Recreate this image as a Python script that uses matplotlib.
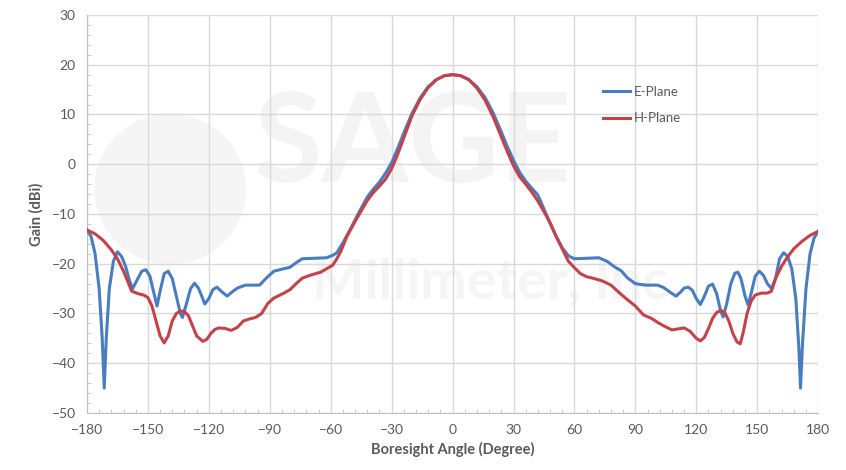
import matplotlib.pyplot as plt
from matplotlib.patches import Ellipse
from matplotlib.ticker import MultipleLocator

# E-plane gain (dBi) vs boresight angle (deg)
e_angle = [-180, -178, -176, -174, -172.5, -171.5, -170.5, -169, -167, -165,
           -163, -161, -159, -157.5, -155, -153, -151, -149, -147, -145.5,
           -144, -142, -140, -138, -136, -134, -133, -131, -129, -127,
           -125, -123, -122, -120, -118, -116, -114, -111, -108, -106,
           -102, -95, -92, -88, -84, -80, -77, -74, -68, -62,
           -59, -57, -54, -50, -46, -42, -39, -36, -33, -30,
           -27, -24, -20, -16, -12, -8, -4, 0,
           4, 8, 12, 16, 20, 24, 27, 30, 33, 36,
           39, 42, 45, 48, 51, 54, 57, 60, 66, 72,
           76, 80, 83, 86, 90, 95, 101, 104, 107, 110,
           112, 114, 116, 118, 120, 122, 124, 126, 128, 130,
           132, 133.2, 135, 137, 139, 140.5, 142, 144, 145.5, 147,
           149, 151, 153, 155, 157, 159, 161, 163, 165, 167,
           169, 170.5, 171.3, 172.3, 174, 176, 178, 180]
e_gain = [-13.2, -14.5, -18, -25, -35, -45, -35, -25, -19.5, -17.6,
          -18.5, -20.5, -23.5, -25, -23, -21.5, -21.2, -22.5, -26, -28.5,
          -25.5, -22, -21.5, -23, -26.5, -30, -30.8, -28, -25, -23.9,
          -25, -27, -28.1, -27, -25.2, -24.7, -25.5, -26.5, -25.5, -24.9,
          -24.3, -24.3, -23, -21.5, -21.1, -20.7, -19.8, -19, -18.9, -18.8,
          -18.3, -17.8, -15.8, -12.8, -9.6, -6.6, -5, -3.6, -1.8, 0.3,
          3.2, 6.3, 10.2, 13.3, 15.6, 17, 17.8, 18,
          17.8, 17, 15.6, 13.4, 10.3, 6.5, 3.5, 0.8, -1.6, -3.4,
          -4.8, -6.2, -9, -11.8, -14.5, -16.8, -18.4, -19, -18.9, -18.8,
          -19.5, -20.7, -21.4, -22.8, -24, -24.3, -24.3, -24.8, -25.7, -26.5,
          -25.8, -24.9, -24.7, -25.3, -27, -28.2, -26.5, -24.5, -24.1, -26,
          -29.5, -30.7, -28, -24, -21.9, -21.7, -23, -26.5, -28.3, -26,
          -22.5, -21.5, -22.3, -24, -25, -23, -19, -17.8, -18.5, -21,
          -27, -37, -45, -36, -25, -18, -14.8, -13.5]

# H-plane gain (dBi) vs boresight angle (deg)
h_angle = [-180, -176, -172, -168, -165, -162, -160, -158, -155, -152,
           -150, -148, -146, -144, -142, -140, -138, -136, -134, -132,
           -130, -128, -126, -123, -121, -119, -117, -115, -112, -109,
           -106, -103, -100, -97, -94, -91, -88, -86, -83, -80,
           -77, -74, -70, -65, -62, -59, -57, -55, -52, -48,
           -45, -42, -39, -36, -33, -30, -27, -24, -20, -16,
           -12, -8, -4, 0,
           4, 8, 12, 16, 20, 24, 27, 30, 33, 36,
           39, 42, 45, 48, 51, 54, 57, 60, 63, 66,
           70, 74, 78, 82, 86, 90, 94, 98, 101, 104,
           108, 111, 114, 117, 120, 122, 124, 126, 128, 130,
           132, 134, 136, 138, 140, 141.6, 143, 145, 147, 149,
           152, 155, 157, 159, 162, 165, 168, 172, 176, 180]
h_gain = [-13.2, -14, -15.3, -17.2, -19, -21.5, -23.5, -25.5, -26, -26.3,
          -26.8, -28.5, -31.5, -34.5, -35.9, -34.5, -31.5, -30, -29.5, -29.6,
          -30.5, -32.5, -34.5, -35.6, -35.2, -34, -33.2, -32.9, -33, -33.4,
          -32.8, -31.5, -31.1, -30.8, -30, -28, -26.9, -26.5, -25.9, -25.2,
          -24, -22.9, -22.3, -21.7, -21, -20.3, -19, -17.5, -14.5, -11.5,
          -9.4, -7.3, -5.7, -4.4, -3, -0.9, 2, 5.3, 9.7, 13,
          15.4, 17, 17.8, 18,
          17.8, 17, 15.3, 12.9, 9.5, 5.5, 2.5, -0.3, -2.5, -4,
          -5.6, -7.4, -9.5, -11.8, -14.5, -17, -19.5, -20.8, -22, -22.6,
          -23, -23.5, -24.3, -25.8, -27.2, -28.5, -30.3, -31, -31.8, -32.5,
          -33.3, -33.1, -32.9, -33.6, -35, -35.5, -34.8, -33, -31, -29.8,
          -29.4, -29.8, -31.5, -34, -35.7, -36.1, -34, -30, -27.5, -26.3,
          -25.9, -25.9, -25.5, -23, -20.5, -18.6, -17, -15.5, -14.3, -13.5]

x_ticks = list(range(-180, 181, 30))
y_ticks = list(range(-50, 31, 10))

plt.rcParams['font.family'] = ['Lato', 'DejaVu Sans']

fig = plt.figure(figsize=(8.46, 4.70), dpi=100)
ax = fig.add_axes([0.1028, 0.1213, 0.8643, 0.8468])

# faint company watermark behind the data
ax.text(0.445, 0.67, 'SAGE', transform=ax.transAxes, ha='center', va='center',
        fontsize=90, fontweight='bold', color='#f4f4f4', zorder=0)
ax.text(0.56, 0.33, 'Millimeter, Inc.', transform=ax.transAxes, ha='center',
        va='center', fontsize=40, fontweight='bold', color='#f5f5f5', zorder=0)
ax.add_patch(Ellipse((-139, -5), 74, 30, color='#f5f5f5', zorder=0))

ax.plot(e_angle, e_gain, color='#4a7dc0', lw=2.2, label='E-Plane', zorder=3)
ax.plot(h_angle, h_gain, color='#c4424a', lw=2.2, label='H-Plane', zorder=3)

ax.set_xlim(-180, 180)
ax.set_ylim(-50, 30)
ax.set_xticks(x_ticks)
ax.set_yticks(y_ticks)
ax.xaxis.set_minor_locator(MultipleLocator(6))
ax.yaxis.set_minor_locator(MultipleLocator(2))
ax.tick_params(which='major', length=0, labelsize=10, colors='#595959', pad=8)
ax.tick_params(which='minor', direction='in', length=3, color='#bfbfbf')
ax.grid(True, which='major', color='#d9d9d9', lw=1)
ax.set_axisbelow(True)

for side in ['top', 'right']:
    ax.spines[side].set_visible(False)
for side in ['left', 'bottom']:
    ax.spines[side].set_color('#bfbfbf')

ax.set_xlabel('Boresight Angle (Degree)', fontsize=10.5, fontweight='bold',
              color='#595959', labelpad=4)
ax.set_ylabel('Gain (dBi)', fontsize=10.5, fontweight='bold',
              color='#595959', labelpad=6)

leg = ax.legend(loc='upper left', bbox_to_anchor=(0.69, 0.852), frameon=False,
                fontsize=9.5, handlelength=2.0, handletextpad=0.3,
                labelspacing=1.1)
for t in leg.get_texts():
    t.set_color('#595959')

fig.savefig('out.png', dpi=100)
